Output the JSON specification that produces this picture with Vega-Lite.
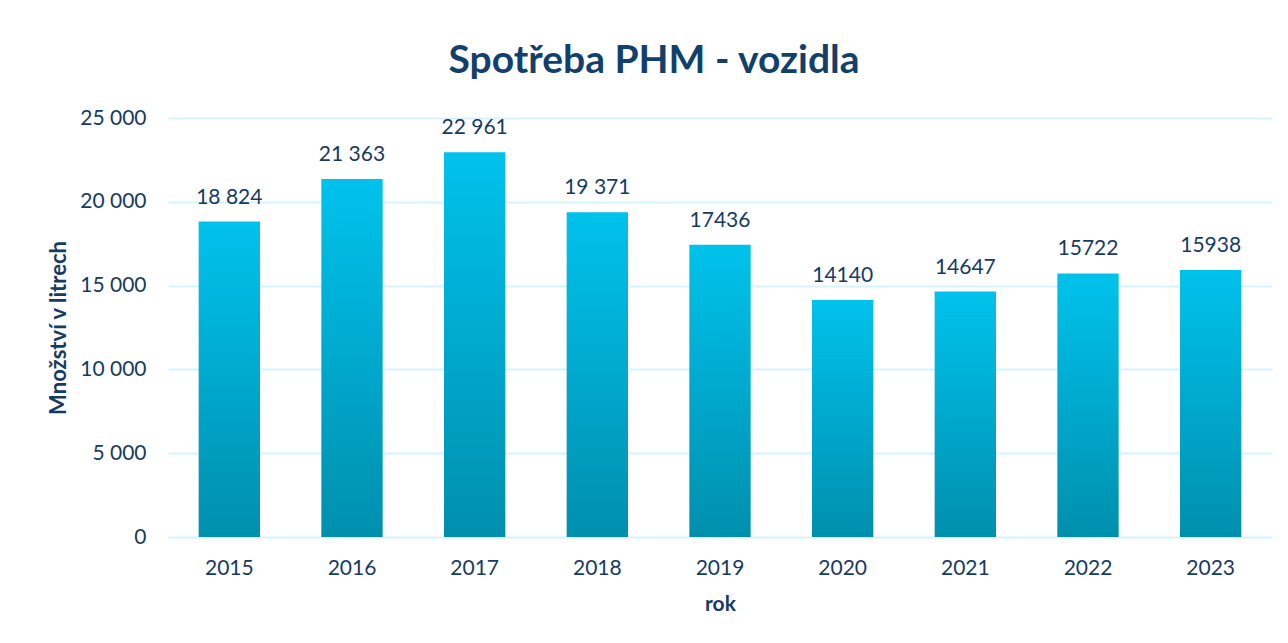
{
  "$schema": "https://vega.github.io/schema/vega-lite/v6.json",
  "autosize": {"type": "none"},
  "width": 1104,
  "height": 419,
  "padding": {"left": 168, "top": 118, "right": 16, "bottom": 106},
  "background": "white",
  "title": {
    "text": "Spotřeba PHM - vozidla",
    "font": "Lato",
    "fontSize": 39,
    "fontWeight": "bold",
    "color": "#123F6B",
    "anchor": "middle",
    "dx": -66,
    "offset": 26
  },
  "data": {
    "values": [
      {"rok": "2015", "mnozstvi": 18824, "label": "18 824"},
      {"rok": "2016", "mnozstvi": 21363, "label": "21 363"},
      {"rok": "2017", "mnozstvi": 22961, "label": "22 961"},
      {"rok": "2018", "mnozstvi": 19371, "label": "19 371"},
      {"rok": "2019", "mnozstvi": 17436, "label": "17436"},
      {"rok": "2020", "mnozstvi": 14140, "label": "14140"},
      {"rok": "2021", "mnozstvi": 14647, "label": "14647"},
      {"rok": "2022", "mnozstvi": 15722, "label": "15722"},
      {"rok": "2023", "mnozstvi": 15938, "label": "15938"}
    ]
  },
  "encoding": {
    "x": {
      "field": "rok",
      "type": "ordinal",
      "title": "rok",
      "scale": {"paddingInner": 0.5, "paddingOuter": 0.25},
      "axis": {
        "domain": false,
        "ticks": false,
        "labelAngle": 0,
        "labelFont": "Lato",
        "labelFontSize": 21,
        "labelColor": "#163B63",
        "labelPadding": 20,
        "titleFont": "Lato",
        "titleFontSize": 21,
        "titleFontWeight": "bold",
        "titleColor": "#163B63",
        "titlePadding": 15
      }
    },
    "y": {
      "field": "mnozstvi",
      "type": "quantitative",
      "title": "Množství v litrech",
      "scale": {"domain": [0, 25000]},
      "axis": {
        "values": [0, 5000, 10000, 15000, 20000, 25000],
        "labelExpr": "replace(format(datum.value, ','), ',', ' ')",
        "domain": false,
        "ticks": false,
        "grid": true,
        "gridColor": "#D5F3FB",
        "gridWidth": 2,
        "labelFont": "Lato",
        "labelFontSize": 21,
        "labelColor": "#163B63",
        "labelPadding": 22,
        "titleFont": "Lato",
        "titleFontSize": 22,
        "titleFontWeight": "bold",
        "titleColor": "#163B63",
        "titlePadding": 9
      }
    }
  },
  "layer": [
    {
      "mark": {
        "type": "bar",
        "color": {
          "gradient": "linear",
          "x1": 0, "y1": 0, "x2": 0, "y2": 1,
          "stops": [
            {"offset": 0, "color": "#00C2EC"},
            {"offset": 1, "color": "#008FAE"}
          ]
        }
      }
    },
    {
      "mark": {
        "type": "text",
        "font": "Lato",
        "fontSize": 21,
        "color": "#163B63",
        "baseline": "alphabetic",
        "dy": -18
      },
      "encoding": {"text": {"field": "label"}}
    }
  ],
  "config": {"view": {"stroke": null}}
}
